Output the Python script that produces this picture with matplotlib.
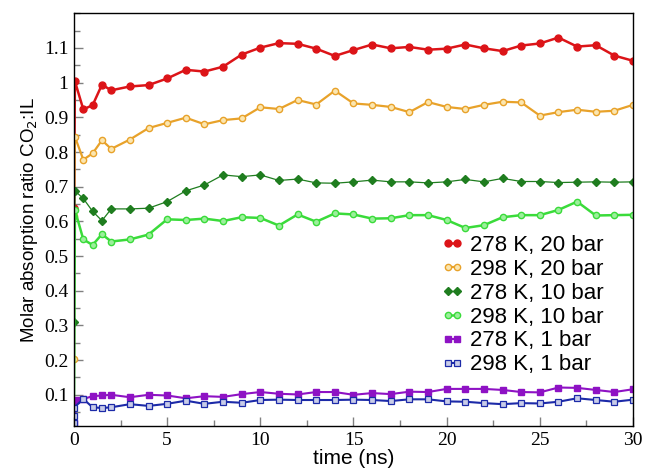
import matplotlib
matplotlib.use("Agg")
import matplotlib.pyplot as plt
from matplotlib.ticker import MultipleLocator

plt.rcParams['font.family'] = 'serif'
plt.rcParams['font.serif'] = ['Liberation Serif', 'DejaVu Serif']

# common time grid (ns) after the initial points at t~0
t_main = [0.5, 1, 1.5, 2, 3, 4, 5, 6, 7, 8, 9, 10, 11, 12, 13, 14, 15,
          16, 17, 18, 19, 20, 21, 22, 23, 24, 25, 26, 27, 28, 29, 30]

labels = ["278 K, 20 bar", "298 K, 20 bar", "278 K, 10 bar",
          "298 K, 10 bar", "278 K, 1 bar", "298 K, 1 bar"]

# first points near t = 0
red_t0, red_v0 = [0, 0.05], [0.638, 1.004]
orange_t0, orange_v0 = [0, 0, 0.05], [0.204, 0.615, 0.844]
dgreen_t0, dgreen_v0 = [0, 0.05], [0.311, 0.688]
lgreen_t0, lgreen_v0 = [0, 0.05], [0.081, 0.633]
purple_t0, purple_v0 = [0, 0.1], [0.02, 0.086]
blue_t0, blue_v0 = [0, 0, 0], [0.019, 0.038, 0.063]

red = [0.923, 0.935, 0.994, 0.978,
       0.989, 0.993, 1.012, 1.037, 1.032, 1.046, 1.081, 1.101, 1.114, 1.112, 1.098, 1.077, 1.094,
       1.110, 1.099, 1.103, 1.095, 1.098, 1.110, 1.099, 1.091, 1.107, 1.113, 1.130, 1.104, 1.108, 1.078, 1.063]
orange = [0.778, 0.796, 0.834, 0.809,
          0.836, 0.869, 0.884, 0.899, 0.880, 0.892, 0.897, 0.929, 0.924, 0.950, 0.937, 0.977, 0.940,
          0.936, 0.930, 0.915, 0.944, 0.930, 0.924, 0.936, 0.945, 0.943, 0.905, 0.915, 0.922, 0.916, 0.919, 0.936]
dgreen = [0.666, 0.629, 0.602, 0.636,
          0.636, 0.638, 0.657, 0.688, 0.705, 0.734, 0.729, 0.734, 0.718, 0.722, 0.711, 0.710, 0.714,
          0.719, 0.714, 0.714, 0.711, 0.714, 0.721, 0.714, 0.724, 0.715, 0.715, 0.712, 0.713, 0.714, 0.713, 0.714]
lgreen = [0.548, 0.532, 0.563, 0.542,
          0.548, 0.562, 0.606, 0.604, 0.608, 0.601, 0.612, 0.610, 0.588, 0.620, 0.599, 0.623, 0.620,
          0.608, 0.609, 0.618, 0.618, 0.604, 0.581, 0.589, 0.612, 0.618, 0.618, 0.633, 0.657, 0.617, 0.618, 0.619]
purple = [0.088, 0.096, 0.098, 0.100,
          0.093, 0.100, 0.098, 0.090, 0.096, 0.094, 0.102, 0.108, 0.103, 0.101, 0.108, 0.108, 0.100,
          0.105, 0.102, 0.109, 0.108, 0.117, 0.117, 0.117, 0.114, 0.108, 0.107, 0.121, 0.120, 0.114, 0.108, 0.116]
blue = [0.088, 0.064, 0.062, 0.064,
        0.073, 0.068, 0.074, 0.083, 0.074, 0.080, 0.077, 0.085, 0.086, 0.085, 0.085, 0.085, 0.086,
        0.085, 0.082, 0.087, 0.087, 0.081, 0.080, 0.076, 0.073, 0.076, 0.075, 0.080, 0.090, 0.085, 0.080, 0.086]

fig = plt.figure(figsize=(6.45, 4.68), dpi=100)
ax = fig.add_axes([0.1147, 0.0897, 0.8667, 0.8819])

ax.plot(red_t0 + t_main, red_v0 + red, color='#dc1418', lw=1.8, marker='o', ms=5,
        label=labels[0])
ax.plot(orange_t0 + t_main, orange_v0 + orange, color='#e8a22a', lw=1.6, marker='o', ms=4.5,
        mfc='#fbe6b0', mew=1.0, label=labels[1])
ax.plot(dgreen_t0 + t_main, dgreen_v0 + dgreen, color='#1f7d1f', lw=0.9, marker='D', ms=4,
        label=labels[2])
ax.plot(lgreen_t0 + t_main, lgreen_v0 + lgreen, color='#3adb3a', lw=1.8, marker='o', ms=4.5,
        mfc='#9cef9c', mew=1.0, label=labels[3])
ax.plot(purple_t0 + t_main, purple_v0 + purple, color='#8e12c4', lw=1.5, marker='s', ms=4.5,
        label=labels[4])
ax.plot(blue_t0 + t_main, blue_v0 + blue, color='#1c2aa8', lw=1.5, marker='s', ms=4,
        mfc='#c8cce8', mew=0.9, label=labels[5])

ax.set_xlim(0, 30)
ax.set_ylim(0.01, 1.2)
ax.set_xticks([0, 5, 10, 15, 20, 25, 30])
ax.set_xticklabels(["0", "5", "10", "15", "20", "25", "30"], family='Liberation Serif')
ax.xaxis.set_minor_locator(MultipleLocator(2.5))
ax.yaxis.set_minor_locator(MultipleLocator(0.05))
ax.set_yticks([0.1, 0.2, 0.3, 0.4, 0.5, 0.6, 0.7, 0.8, 0.9, 1.0, 1.1])
ax.set_yticklabels(["0.1", "0.2", "0.3", "0.4", "0.5", "0.6", "0.7", "0.8", "0.9", "1", "1.1"],
                   family='Liberation Serif')
ax.tick_params(which='both', direction='in', color='#808080', top=False, right=False)
ax.tick_params(which='major', length=6.5, width=1.0, labelsize=14, pad=4)
ax.tick_params(which='minor', length=4, width=1.0)
for s in ax.spines.values():
    s.set_linewidth(1.0)

sans = ['Liberation Sans', 'DejaVu Sans']
ax.set_xlabel("time (ns)", family=sans, fontsize=15, labelpad=0)
ax.set_ylabel("Molar absorption ratio CO$_2$:IL", family=sans, fontsize=13.5, labelpad=3)

ax.legend(loc='lower right', bbox_to_anchor=(0.975, 0.085), frameon=False, numpoints=2,
          handlelength=1.0, handletextpad=0.3, labelspacing=0.13, borderpad=0.2,
          prop={'family': sans, 'size': 16})

fig.savefig("out.png", dpi=100)
